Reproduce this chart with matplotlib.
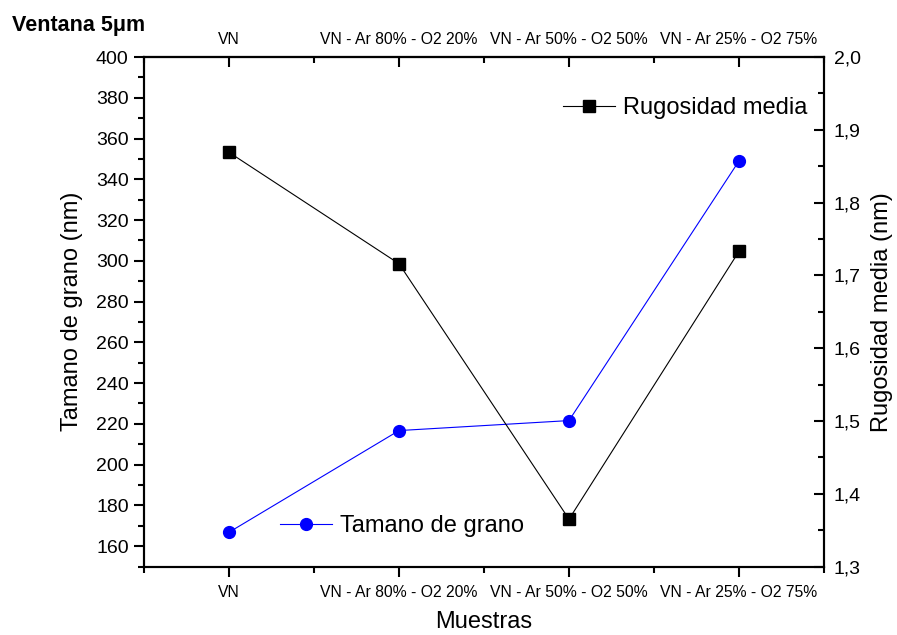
import numpy as np
import matplotlib
matplotlib.use('Agg')
import matplotlib.pyplot as plt
from matplotlib.ticker import MultipleLocator, FuncFormatter

plt.rcParams['font.family'] = ['Liberation Sans', 'DejaVu Sans']

# datos
muestras = ['VN', 'VN - Ar 80% - O2 20%', 'VN - Ar 50% - O2 50%', 'VN - Ar 25% - O2 75%']
tamano = [166.8, 216.7, 221.6, 349.0]
rugosidad = [1.869, 1.716, 1.365, 1.733]

x = np.arange(1, len(muestras) + 1)

fig = plt.figure(figsize=(8.97, 6.35), dpi=100)
ax = fig.add_axes([144/897, 68.5/635, 680/897, 509.5/635])
ax2 = ax.twinx()

# tamano de grano (eje izquierdo)
ax.plot(x, tamano, color='blue', lw=0.8, marker='o', ms=8.5,
        label='Tamano de grano')
ax.set_xlim(0.5, 4.5)
ax.set_ylim(150, 400)
ax.yaxis.set_major_locator(MultipleLocator(20))
ax.yaxis.set_minor_locator(MultipleLocator(10))
ax.set_xticks(x)
ax.set_xticklabels(muestras, fontsize=11.3)
ax.xaxis.set_minor_locator(MultipleLocator(0.5))
ax.tick_params(axis='x', which='major', direction='out', length=7, width=1.5, pad=6.5)
ax.tick_params(axis='x', which='minor', direction='out', length=4, width=1.5)
ax.tick_params(axis='y', which='major', direction='out', length=7, width=1.5,
               labelsize=14, pad=4)
ax.tick_params(axis='y', which='minor', direction='out', length=4, width=1.5)
ax.set_ylabel('Tamano de grano (nm)', fontsize=17)
ax.set_xlabel('Muestras', fontsize=17)
ax.yaxis.set_label_coords(-0.0897, 0.5)
ax.xaxis.set_label_coords(0.5, -0.087)

# rugosidad (eje derecho)
ax2.plot(x, rugosidad, color='black', lw=0.8, marker='s', ms=8,
         label='Rugosidad media')
ax2.set_ylim(1.3, 2.0)
ax2.yaxis.set_major_locator(MultipleLocator(0.1))
ax2.yaxis.set_minor_locator(MultipleLocator(0.05))
ax2.yaxis.set_major_formatter(FuncFormatter(lambda v, p: ('%.1f' % v).replace('.', ',')))
ax2.tick_params(axis='y', which='major', direction='in', length=7, width=1.5,
                labelsize=14, pad=7)
ax2.tick_params(axis='y', which='minor', direction='in', length=4, width=1.5)
ax2.set_ylabel('Rugosidad media (nm)', fontsize=17)
ax2.yaxis.set_label_coords(1.069, 0.5)

# eje superior con las mismas etiquetas
top = ax.secondary_xaxis('top')
top.set_xticks(x)
top.set_xticklabels(muestras, fontsize=11.3)
top.xaxis.set_minor_locator(MultipleLocator(0.5))
top.tick_params(axis='x', which='major', direction='in', length=7, width=1.5, pad=7)
top.tick_params(axis='x', which='minor', direction='in', length=4, width=1.5)
top.spines['top'].set_linewidth(1.5)

for s in ax.spines.values():
    s.set_linewidth(1.5)
for s in ax2.spines.values():
    s.set_linewidth(1.5)

fig.legend(handles=ax2.get_lines(), loc='center left',
           bbox_to_anchor=(563/897, 1 - 108/635), frameon=False, fontsize=17,
           borderpad=0, borderaxespad=0, handlelength=2.2, handletextpad=0.34)
fig.legend(handles=ax.get_lines(), loc='center left',
           bbox_to_anchor=(280/897, 1 - 526/635), frameon=False, fontsize=17,
           borderpad=0, borderaxespad=0, handlelength=2.2, handletextpad=0.34)

fig.text(12/897, 1 - 25/635, 'Ventana 5μm', fontsize=15.5, fontweight='bold',
         ha='left', va='center')

fig.savefig('out.png', dpi=100)
